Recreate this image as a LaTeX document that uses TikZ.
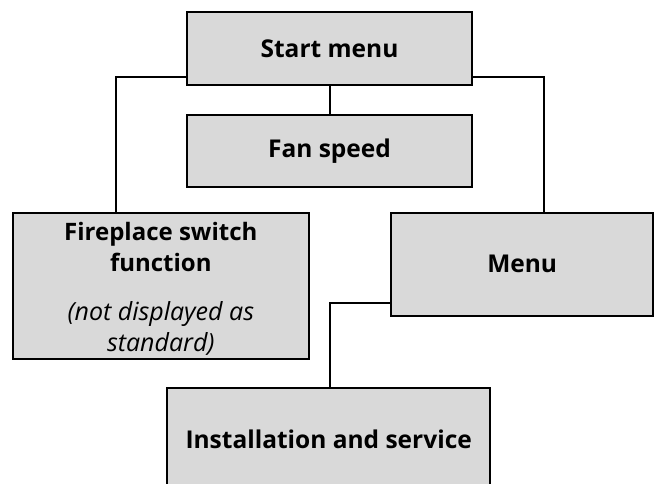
\documentclass[tikz,border=0pt]{standalone}
\usepackage{fontspec}
\setmainfont{Open Sans}
\begin{document}
\begin{tikzpicture}[x=1pt,y=-1pt,
  box/.style={draw=black, fill=boxgray, line width=2pt, inner sep=0pt,
    font=\fontsize{24.5}{28}\selectfont\bfseries, align=center},
  link/.style={draw=black, line width=2pt}]
\definecolor{boxgray}{HTML}{D9D9D9}
\clip (0,0) rectangle (657,484);
\node[box, minimum width=285pt, minimum height=73pt] (start) at (329.5,48.5) {Start menu};
\node[box, minimum width=285pt, minimum height=72pt] (fan) at (329.5,151) {Fan speed};
\node[box, minimum width=296pt, minimum height=146.6pt, font=\fontsize{24}{30.6}\selectfont\bfseries] (fire) at (160.8,286)
  {\rule{0pt}{24pt}Fireplace switch\\function\\[18.4pt]\fontsize{25}{30.6}\selectfont\fontseries{m}\itshape (not displayed as\\\fontsize{25}{30.6}\selectfont\fontseries{m}\itshape standard)};
\node[box, minimum width=262pt, minimum height=103pt] (menu) at (522.2,264.2) {Menu};
\node[box, minimum width=322.7pt, minimum height=103.5pt] (inst) at (328.7,439.3) {Installation and service};
\coordinate (l1) at (116,76.7);
\coordinate (r1) at (544.3,76.7);
\coordinate (m1) at (330,303.3);
\draw[link] (start.west |- l1) -| (fire.north -| l1);
\draw[link] (start.south) -- (fan.north);
\draw[link] (start.east |- r1) -| (menu.north -| r1);
\draw[link] (menu.west |- m1) -| (inst.north -| m1);
\end{tikzpicture}
\end{document}
